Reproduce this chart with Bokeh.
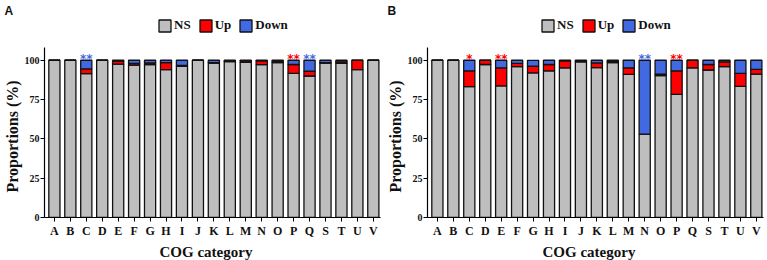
from bokeh.plotting import figure
from bokeh.layouts import row
from bokeh.models import (ColumnDataSource, Range1d, FixedTicker, Legend, LegendItem, Title)
from bokeh.core.properties import value
from bokeh.embed import file_html
from bokeh.resources import INLINE

cats = ["A", "B", "C", "D", "E", "F", "G", "H", "I", "J", "K", "L", "M", "N",
        "O", "P", "Q", "S", "T", "U", "V"]

# Panel A (% of genes per COG category)
a_ns   = [100, 100, 91.5, 100, 97.5, 97, 97.3, 94, 96.2, 100, 98.2, 99.2, 98.7, 97.2,
          98.5, 91.7, 90, 98.2, 98, 94, 100]
a_up   = [0, 0, 3, 0, 2, 1, 1, 4.5, 0.5, 0, 0.3, 0.4, 1, 2.5,
          1, 5.6, 3, 0.3, 1, 6, 0]
a_down = [0, 0, 5.5, 0, 0.5, 2, 1.7, 1.5, 3.3, 0, 1.5, 0.4, 0.3, 0.3,
          0.5, 2.7, 7, 1.5, 1, 0, 0]
a_star_cats = ["C", "P", "Q"]
a_star_text = ["**", "**", "**"]
a_star_kind = ["Down", "Up", "Down"]

# Panel B
b_ns   = [100, 100, 83.3, 97.3, 83.7, 96, 92, 93.3, 95.1, 99, 95.3, 98.5, 91, 53,
          90.2, 78.3, 95.2, 93.8, 96, 83.4, 91.2]
b_up   = [0, 0, 10, 2.7, 11.5, 2, 4.2, 4, 4.6, 0.5, 3, 1, 4.2, 0,
          1, 15, 4.8, 3.5, 3, 8.3, 3]
b_down = [0, 0, 6.7, 0, 4.8, 2, 3.75, 2.7, 0.3, 0.5, 1.7, 0.5, 4.8, 47,
          8.8, 6.7, 0, 2.7, 1, 8.3, 5.8]
b_star_cats = ["C", "E", "N", "P"]
b_star_text = ["*", "**", "**", "**"]
b_star_kind = ["Up", "Up", "Down", "Up"]

y_ticks = [0, 25, 50, 75, 100]
series = ["NS", "Up", "Down"]
colors = {"NS": "#BEBEBE", "Up": "#FF0000", "Down": "#4169E1"}

SERIF = "Liberation Serif"
INK = "#111111"


def make_panel(ns, up, down, star_cats, star_text, star_kind, tag, width, right):
    xs = list(range(len(cats)))
    src = ColumnDataSource(dict(x=xs, NS=ns, Up=up, Down=down))
    p = figure(width=width, height=260, output_backend="svg", toolbar_location=None,
               x_range=Range1d(-0.62, len(cats) - 1 + 0.45), y_range=Range1d(0, 127.2),
               min_border_left=43, min_border_right=right, min_border_top=17,
               min_border_bottom=42)
    p.outline_line_color = None
    p.grid.visible = False
    p.background_fill_color = "white"

    rs = p.vbar_stack(series, x="x", width=0.7, source=src,
                      color=[colors[s] for s in series],
                      line_color=INK, line_width=1.3)

    # significance stars
    sx = [cats.index(c) for c in star_cats]
    ssrc = ColumnDataSource(dict(x=sx, y=[101] * len(sx), t=star_text,
                                 c=[colors[k] for k in star_kind]))
    p.text(x="x", y="y", text="t", source=ssrc, text_color="c",
           text_font=value("DejaVu Sans"), text_font_size="12px",
           text_font_style="bold", text_align="center", text_baseline="middle")

    legend = Legend(items=[LegendItem(label=s, renderers=[r]) for s, r in zip(series, rs)],
                    orientation="horizontal", location=(113, 184),
                    glyph_width=15, glyph_height=15, label_standoff=2, spacing=7,
                    label_width=5, padding=0, margin=0,
                    label_text_font=SERIF, label_text_font_style="bold",
                    label_text_font_size="13px", label_text_color=INK,
                    background_fill_alpha=0, border_line_color=None)
    p.add_layout(legend)

    # panel tag
    p.add_layout(Title(text=tag, align="left", offset=-40, standoff=0,
                       text_font="Liberation Sans", text_font_size="12px",
                       text_font_style="bold", text_color=INK), "above")

    xa = p.xaxis[0]
    xa.ticker = FixedTicker(ticks=xs)
    xa.major_label_overrides = {i: c for i, c in enumerate(cats)}
    xa.minor_tick_line_color = None
    xa.major_tick_out = 4
    xa.major_tick_in = 0
    xa.major_label_standoff = 2
    xa.major_label_text_font = SERIF
    xa.major_label_text_font_style = "bold"
    xa.major_label_text_font_size = "12px"
    xa.major_label_text_color = INK
    xa.axis_line_width = 1.2

    # x-axis title
    p.add_layout(Title(text="COG category", align="left", offset=115, standoff=2,
                       text_font=SERIF, text_font_size="15px",
                       text_font_style="bold", text_color=INK), "below")

    ya = p.yaxis[0]
    ya.ticker = FixedTicker(ticks=y_ticks)
    ya.bounds = (0, 108)
    ya.minor_tick_line_color = None
    ya.major_tick_out = 4
    ya.major_tick_in = 0
    ya.major_label_standoff = 1
    ya.major_label_text_font = SERIF
    ya.major_label_text_font_style = "bold"
    ya.major_label_text_font_size = "10px"
    ya.major_label_text_color = INK
    ya.axis_line_width = 1.2

    # y-axis title, centred on the drawn axis (0..108) rather than the frame
    p.add_layout(Title(text="Proportions (%)", align="left", offset=25, standoff=2,
                       text_font=SERIF, text_font_size="16px",
                       text_font_style="bold", text_color=INK), "left")
    return p


pa = make_panel(a_ns, a_up, a_down, a_star_cats, a_star_text, a_star_kind, "A", 383, 3)
pb = make_panel(b_ns, b_up, b_down, b_star_cats, b_star_text, b_star_kind, "B", 384, 4)
layout = row(pa, pb)

open("out.html", "w").write(file_html(layout, INLINE))
